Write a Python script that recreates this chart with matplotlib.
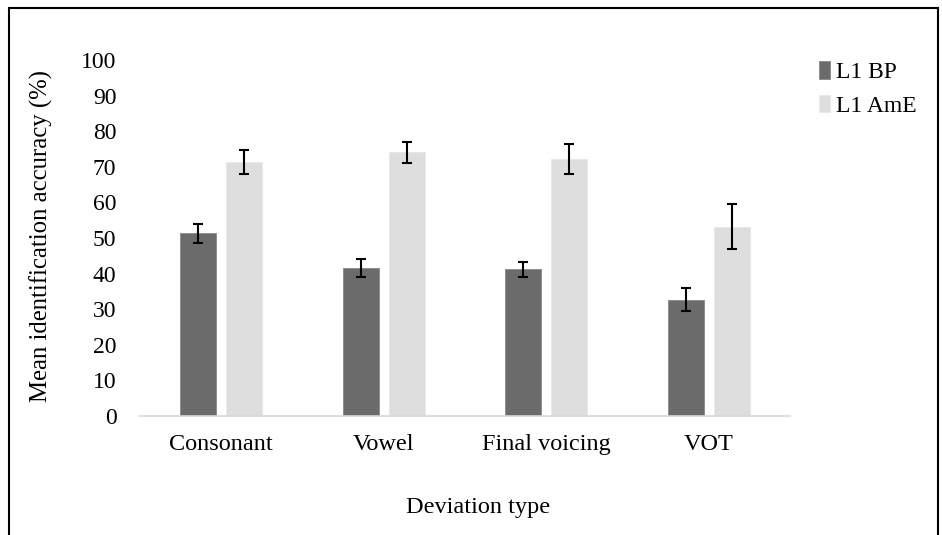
import numpy as np
import matplotlib
matplotlib.use("Agg")
import matplotlib.pyplot as plt
from matplotlib.patches import Rectangle

categories = ["Consonant", "Vowel", "Final voicing", "VOT"]
series_names = ["L1 BP", "L1 AmE"]
bp_mean = [51.3, 41.5, 41.2, 32.7]
bp_err = [2.7, 2.5, 2.1, 3.2]
ame_mean = [71.3, 74.1, 72.2, 53.2]
ame_err = [3.4, 2.9, 4.1, 6.4]
yticks = [0, 10, 20, 30, 40, 50, 60, 70, 80, 90, 100]

plt.rcParams["font.family"] = ["Liberation Serif", "DejaVu Serif"]

fig = plt.figure(figsize=(9.42, 5.35), dpi=100)
ax = fig.add_axes([140 / 942, 1 - 416 / 535, 650 / 942, 356 / 535])

x = np.arange(len(categories))
w = 0.222
off = 0.142
ekw = dict(ecolor="black", elinewidth=1.5, capsize=3.3, capthick=1.5)
ax.bar(x - off, bp_mean, w, color="#6b6b6b", edgecolor="#8a8a8a", linewidth=0.6,
       yerr=bp_err, error_kw=ekw, label=series_names[0])
ax.bar(x + off, ame_mean, w, color="#dedede", edgecolor="#e8e8e8", linewidth=0.6,
       yerr=ame_err, error_kw=ekw, label=series_names[1])

ax.set_xlim(-0.5, len(categories) - 0.5)
ax.set_ylim(0, 100)
ax.set_yticks(yticks)
ax.set_xticks(x)
ax.set_xticklabels(categories, fontsize=17.5)
ax.tick_params(axis="y", length=0, pad=17, labelsize=17)
ax.tick_params(axis="x", length=0, pad=13)
for s in ("top", "right", "left"):
    ax.spines[s].set_visible(False)
ax.spines["bottom"].set_color("#d9d9d9")
ax.spines["bottom"].set_linewidth(1.2)

fig.text(41 / 942, 1 - 236 / 535, "Mean identification accuracy (%)",
         rotation=90, ha="center", va="center", fontsize=17.8)
fig.text(478 / 942, 1 - 508 / 535, "Deviation type", ha="center", va="center",
         fontsize=17.5)

ax.legend(loc="upper left", bbox_to_anchor=(810 / 942, 1 - 52 / 535),
          bbox_transform=fig.transFigure, frameon=False, fontsize=17,
          handlelength=0.45, handleheight=0.75, handletextpad=0.25,
          labelspacing=0.5, borderaxespad=0)

fig.patches.append(Rectangle((9 / 942, -0.05), 929 / 942, 1 - 8 / 535 + 0.05,
                             transform=fig.transFigure, fill=False,
                             edgecolor="black", linewidth=1.5))

fig.savefig("out.png", dpi=100)
